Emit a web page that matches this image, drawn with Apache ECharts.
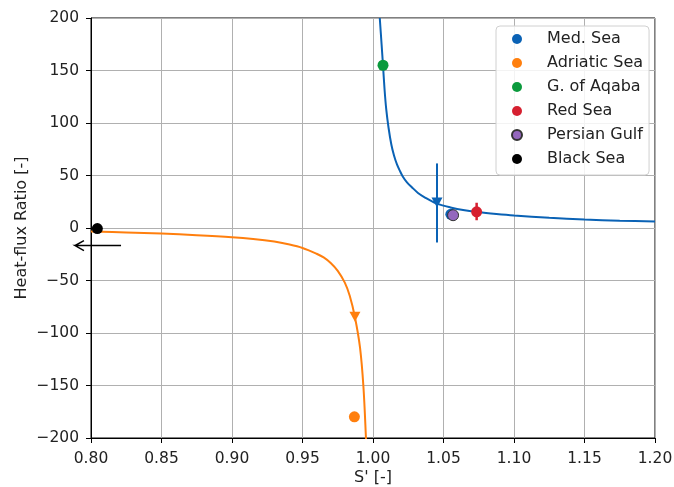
<!DOCTYPE html>
<html lang="en">
<head>
    <meta charset="UTF-8">
    <title>Heat-flux ratio</title>
    <script src="https://cdn.jsdelivr.net/npm/echarts@6/dist/echarts.min.js"></script>
    <style>
        html, body { margin: 0; padding: 0; background: #fff; }
    </style>
</head>
<body>
<div id="main" style="width: 674px;height:487px;"></div>
</body>
<script type="text/javascript">

    // curve: S' > 1 branch (blue)
    var blueS = [1.0048, 1.0061, 1.0071, 1.0082, 1.0094, 1.0110, 1.0130, 1.0149, 1.0170, 1.0190,
                 1.0211, 1.0241, 1.0277, 1.0319, 1.0369, 1.0447, 1.0550, 1.0650, 1.0750, 1.0875,
                 1.1000, 1.1250, 1.1500, 1.1750, 1.2000];
    var blueR = [200, 174.8, 154.8, 131.9, 112.9, 95.7, 79.5, 69.0, 60.5, 54.6,
                 49.0, 43.4, 38.6, 33.4, 29.0, 23.5, 19.6, 16.9, 15.0, 13.3,
                 11.9, 9.8, 8.1, 7.0, 6.2];

    // S' < 1 branch (orange)
    var orangeS = [0.800, 0.825, 0.850, 0.875, 0.900, 0.915, 0.930, 0.940, 0.950, 0.960, 0.965,
                   0.970, 0.975, 0.980, 0.9835, 0.9872, 0.9908, 0.9932, 0.9950, 0.9953];
    var orangeR = [-3.3, -4.2, -5.3, -6.8, -8.7, -10.4, -12.9, -15.5, -19.0, -24.5, -28.0,
                   -33.3, -40.8, -52.0, -64.5, -85.0, -114, -151, -200, -213];

    // direction markers on the curves
    var blueMark = [1.0454, 24.3];
    var orangeMark = [0.9872, -84.6];

    // vertical ranges
    var medBar = [1.0454, -13.8, 61.5];
    var redBar = [1.0735, 7.4, 24.0];

    // sea points
    var seaNames = ['Med. Sea', 'Adriatic Sea', 'G. of Aqaba', 'Red Sea', 'Persian Gulf', 'Black Sea'];
    var seaS = [1.0552, 0.9868, 1.0071, 1.0735, 1.0568, 0.8045];
    var seaR = [13.0, -179.8, 155.0, 15.4, 12.2, -0.5];

    // arrow to the left of the Black Sea point (wing, tip, wing, tip, tail)
    var arrowS = [0.7950, 0.7887, 0.7950, 0.7887, 0.8213];
    var arrowR = [-12.0, -16.7, -21.5, -16.7, -16.7];

    var colors = ['#0a62b5', '#ff7f0e', '#0b9a3d', '#d62030', '#9467bd', '#000000'];

    function zip(a, b) {
        return a.map(function (v, i) { return [v, b[i]]; });
    }

    var font = 'DejaVu Sans';
    var myChart = echarts.init(document.getElementById('main'));

    var series = [
        {
            name: 'blue curve', type: 'line', data: zip(blueS, blueR),
            showSymbol: false, smooth: 0.3,
            lineStyle: {color: colors[0], width: 2}, z: 3
        },
        {
            name: 'orange curve', type: 'line', data: zip(orangeS, orangeR),
            showSymbol: false, smooth: 0.35,
            lineStyle: {color: colors[1], width: 2}, z: 3
        },
        {
            name: 'med bar', type: 'line', data: [[medBar[0], medBar[1]], [medBar[0], medBar[2]]],
            showSymbol: false, lineStyle: {color: colors[0], width: 2}, z: 3
        },
        {
            name: 'red bar', type: 'line', data: [[redBar[0], redBar[1]], [redBar[0], redBar[2]]],
            showSymbol: false, lineStyle: {color: colors[3], width: 2.5}, z: 3
        },
        {
            name: 'marks', type: 'scatter',
            data: [
                {value: blueMark, itemStyle: {color: colors[0]}},
                {value: orangeMark, itemStyle: {color: colors[1]}}
            ],
            symbol: 'triangle', symbolRotate: 180, symbolSize: [11, 10],
            itemStyle: {opacity: 1}, z: 4
        },
        {
            // arrow drawn through the axes, allowed past the left edge of the plot
            name: 'arrow', type: 'custom', data: [[arrowS[0], arrowR[0]]], clip: false,
            renderItem: function (params, api) {
                var pts = arrowS.map(function (s, i) { return api.coord([s, arrowR[i]]); });
                return {
                    type: 'polyline',
                    shape: {points: pts},
                    style: {stroke: '#000', lineWidth: 1.5, fill: null}
                };
            },
            z: 4
        }
    ];

    seaNames.forEach(function (n, i) {
        series.push({
            name: n, type: 'scatter', data: [[seaS[i], seaR[i]]],
            symbol: 'circle', symbolSize: 11,
            itemStyle: i === 4
                ? {color: colors[i], opacity: 1, borderColor: '#333', borderWidth: 1}
                : {color: colors[i], opacity: 1},
            z: 5
        });
    });

    var option = {
        animation: false,
        color: colors,
        grid: {
            left: 91, right: 19, top: 18, bottom: 49,
            outerBoundsMode: 'none',
            show: true, borderColor: '#000', borderWidth: 1
        },
        legend: {
            data: seaNames.map(function (n) { return {name: n, icon: 'circle'}; }),
            orient: 'vertical',
            left: 496, top: 26,
            itemWidth: 10, itemHeight: 10, itemGap: 6,
            padding: [4, 6, 7, 15],
            backgroundColor: 'rgba(255,255,255,0.85)',
            borderColor: '#d0d0d0', borderWidth: 1, borderRadius: 4,
            textStyle: {fontFamily: font, fontSize: 16, color: '#222', lineHeight: 18, padding: [0, 0, 0, 20]}
        },
        xAxis: {
            type: 'value', min: 0.8, max: 1.2, interval: 0.05,
            name: "S' [-]", nameLocation: 'middle', nameGap: 32, nameMoveOverlap: false,
            nameTextStyle: {fontFamily: font, fontSize: 16, color: '#222'},
            axisLine: {show: true, onZero: false, lineStyle: {color: '#000', width: 1}},
            axisTick: {show: true, length: 5, lineStyle: {color: '#000'}},
            axisLabel: {
                fontFamily: font, fontSize: 15.5, color: '#222', margin: 13,
                formatter: function (v) { return v.toFixed(2); }
            },
            splitLine: {show: true, lineStyle: {color: '#b0b0b0', width: 1}}
        },
        yAxis: {
            type: 'value', min: -200, max: 200, interval: 50,
            name: 'Heat-flux Ratio [-]', nameLocation: 'middle', nameGap: 61, nameMoveOverlap: false,
            nameTextStyle: {fontFamily: font, fontSize: 16, color: '#222'},
            axisLine: {show: true, onZero: false, lineStyle: {color: '#000', width: 1}},
            axisTick: {show: true, length: 5, lineStyle: {color: '#000'}},
            axisLabel: {
                fontFamily: font, fontSize: 15.5, color: '#222', margin: 12,
                formatter: function (v) { return String(v).replace('-', '\u2212'); }
            },
            splitLine: {show: true, lineStyle: {color: '#b0b0b0', width: 1}}
        },
        series: series
    };
    myChart.setOption(option);

</script>
</html>
